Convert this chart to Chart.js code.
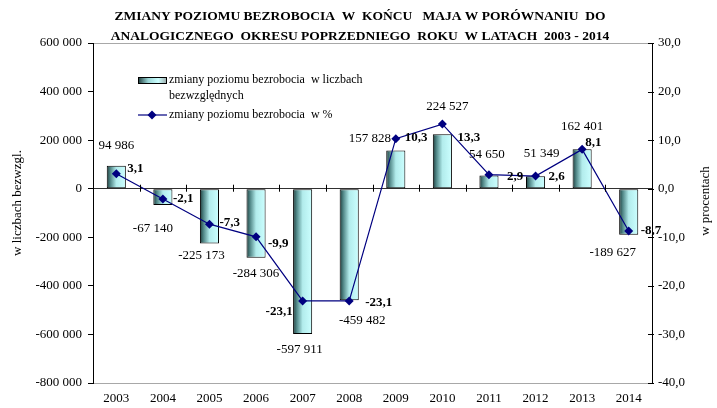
<!DOCTYPE html>
<html>
<head>
<meta charset="utf-8">
<script src="https://cdn.jsdelivr.net/npm/chart.js@4.4.1/dist/chart.umd.min.js"></script>
<style>
html,body{margin:0;padding:0;background:#fff;}
#wrap{width:717px;height:408px;position:relative;}
</style>
</head>
<body>
<div id="wrap"><canvas id="c" width="717" height="408"></canvas></div>
<script>
// ---- data ----
const years = ['2003','2004','2005','2006','2007','2008','2009','2010','2011','2012','2013','2014'];
const absChange = [94986, -67140, -225173, -284306, -597911, -459482, 157828, 224527, 54650, 51349, 162401, -189627];
const pctChange = [3.1, -2.1, -7.3, -9.9, -23.1, -23.1, 10.3, 13.3, 2.9, 2.6, 8.1, -8.7];
const leftAxisMin = -800000, leftAxisMax = 600000, leftAxisStep = 200000;
const rightAxisMin = -40, rightAxisMax = 30, rightAxisStep = 10;
const titleLines = ['ZMIANY POZIOMU BEZROBOCIA  W  KOŃCU   MAJA W PORÓWNANIU  DO',
                    'ANALOGICZNEGO  OKRESU POPRZEDNIEGO  ROKU  W LATACH  2003 - 2014'];
const seriesNames = ['zmiany poziomu bezrobocia  w liczbach', 'bezwzględnych', 'zmiany poziomu bezrobocia  w %'];
const leftAxisTitle = 'w liczbach bezwzgl.';
const rightAxisTitle = 'w procentach';

const SERIF = "'Liberation Serif', 'Times New Roman', serif";
Chart.defaults.font.family = SERIF;
Chart.defaults.font.size = 13;
Chart.defaults.color = '#000';

function fmtThousands(v){
  const s = String(Math.abs(v)).replace(/\B(?=(\d{3})+(?!\d))/g, ' ');
  return (v < 0 ? '-' : '') + s;
}
function fmtPct(v){ return v.toFixed(1).replace('.', ','); }

const BAR_PCT = 0.41;
function barGradient(ctx, chart, i){
  const xs = chart.scales.x;
  const area = chart.chartArea;
  if (!xs || !area) return '#bdf5f5';
  const xc = xs.getPixelForValue(i);
  const w = area.width / years.length * BAR_PCT;
  const g = chart.ctx.createLinearGradient(xc - w/2, 0, xc + w/2, 0);
  g.addColorStop(0, '#1e3a3a');
  g.addColorStop(0.18, '#4e8484');
  g.addColorStop(0.5, '#b2ecec');
  g.addColorStop(1, '#ccffff');
  return g;
}

// label placement tweaks (pixel offsets relative to mark ends)
const barLabelTweak = [[0,-20],[-10,24],[-8,12],[0,16],[-3,16],[13,20],[-26,-12],[5,-28],[-2,-21],[6,-23],[0,-23],[-16,18]];
const pctLabelTweak = [[11,-5,'left'],[10,0,'left'],[10,-2,'left'],[12,7,'left'],[-10,11,'right'],[16,2,'left'],
                       [9,-1,'left'],[15,14,'left'],[18,2,'left'],[13,1,'left'],[3,-7,'left'],[12,0,'left']];

const decor = {
  id: 'decor',
  afterDatasetsDraw(chart){
    const ctx = chart.ctx;
    const xs = chart.scales.x, ys = chart.scales.y, y2 = chart.scales.y2;
    ctx.save();
    ctx.fillStyle = '#000';
    ctx.textBaseline = 'middle';
    // bar value labels
    ctx.font = '13px ' + SERIF;
    ctx.textAlign = 'center';
    absChange.forEach((v, i) => {
      const x = xs.getPixelForValue(i) + barLabelTweak[i][0];
      const y = ys.getPixelForValue(v) + barLabelTweak[i][1];
      ctx.fillText(fmtThousands(v), x, y);
    });
    // percent labels
    ctx.font = 'bold 13px ' + SERIF;
    pctChange.forEach((v, i) => {
      const t = pctLabelTweak[i];
      ctx.textAlign = t[2];
      ctx.fillText(fmtPct(v), xs.getPixelForValue(i) + t[0], y2.getPixelForValue(v) + t[1]);
    });
    ctx.restore();
  },
  afterDraw(chart){
    const ctx = chart.ctx;
    const a = chart.chartArea;
    const xs = chart.scales.x, ys = chart.scales.y, y2 = chart.scales.y2;
    ctx.save();
    // category tick marks on the zero line
    const y0 = ys.getPixelForValue(0);
    ctx.strokeStyle = '#000';
    ctx.lineWidth = 1;
    const cw = a.width / years.length;
    for (let i = 1; i < years.length; i++){
      const x = Math.round(a.left + i*cw) + 0.5;
      ctx.beginPath(); ctx.moveTo(x, y0 - 4); ctx.lineTo(x, y0 + 3); ctx.stroke();
    }
    // right axis ticks crossing the axis
    for (let v = rightAxisMin; v <= rightAxisMax; v += rightAxisStep){
      const y = Math.round(y2.getPixelForValue(v)) + 0.5;
      ctx.beginPath(); ctx.moveTo(a.right - 4, y); ctx.lineTo(a.right + 2, y); ctx.stroke();
    }
    // title
    ctx.fillStyle = '#000';
    ctx.font = 'bold 13.5px ' + SERIF;
    ctx.textAlign = 'center';
    ctx.textBaseline = 'middle';
    ctx.fillText(titleLines[0], 360, 17);
    ctx.fillText(titleLines[1], 360, 37);
    // axis titles
    ctx.font = '13px ' + SERIF;
    ctx.save();
    ctx.translate(18, (a.top + a.bottom)/2 - 10);
    ctx.rotate(-Math.PI/2);
    ctx.fillText(leftAxisTitle, 0, 0);
    ctx.restore();
    ctx.save();
    ctx.translate(706, (a.top + a.bottom)/2 - 12);
    ctx.rotate(-Math.PI/2);
    ctx.fillText(rightAxisTitle, 0, 0);
    ctx.restore();
    // legend
    ctx.font = '12px ' + SERIF;
    const lx = a.left + 45, ly = a.top + 37;
    const g = ctx.createLinearGradient(lx, 0, lx + 29, 0);
    g.addColorStop(0, '#1e3a3a');
    g.addColorStop(0.35, '#9ad6d6');
    g.addColorStop(0.7, '#ccffff');
    g.addColorStop(1, '#9aa8a8');
    ctx.fillStyle = g;
    ctx.fillRect(lx, ly - 3, 29, 7);
    ctx.strokeStyle = '#000';
    ctx.strokeRect(lx + 0.5, ly - 2.5, 28, 6);
    ctx.fillStyle = '#000';
    ctx.textAlign = 'left';
    ctx.fillText(seriesNames[0], lx + 31, ly);
    ctx.fillText(seriesNames[1], lx + 31, ly + 16);
    const ly2 = ly + 35;
    ctx.strokeStyle = '#000080';
    ctx.lineWidth = 1.2;
    ctx.beginPath(); ctx.moveTo(lx, ly2); ctx.lineTo(lx + 29, ly2); ctx.stroke();
    ctx.fillStyle = '#000080';
    ctx.beginPath();
    const dx = lx + 14;
    ctx.moveTo(dx, ly2 - 4.5); ctx.lineTo(dx + 4.5, ly2); ctx.lineTo(dx, ly2 + 4.5); ctx.lineTo(dx - 4.5, ly2); ctx.closePath(); ctx.fill();
    ctx.fillStyle = '#000';
    ctx.fillText(seriesNames[2], lx + 31, ly2);
    ctx.restore();
  }
};

new Chart(document.getElementById('c'), {
  type: 'bar',
  data: {
    labels: years,
    datasets: [
      {
        type: 'line',
        label: seriesNames[2],
        data: pctChange,
        yAxisID: 'y2',
        borderColor: '#000080',
        backgroundColor: '#000080',
        borderWidth: 1.2,
        pointStyle: 'rectRot',
        pointRadius: 4.5,
        pointHoverRadius: 4.5,
        pointBorderWidth: 0,
        tension: 0,
        order: 0
      },
      {
        type: 'bar',
        label: seriesNames[0] + ' ' + seriesNames[1],
        data: absChange,
        yAxisID: 'y',
        backgroundColor: (c) => barGradient(c, c.chart, c.dataIndex),
        borderColor: '#000',
        borderWidth: 1,
        borderSkipped: false,
        barPercentage: BAR_PCT,
        categoryPercentage: 1.0,
        order: 1
      }
    ]
  },
  options: {
    responsive: false,
    animation: false,
    events: [],
    layout: { padding: { top: 43, left: 0, right: 0, bottom: 0 } },
    plugins: { legend: { display: false }, title: { display: false }, tooltip: { enabled: false } },
    scales: {
      x: {
        position: 'bottom',
        grid: { display: false, drawTicks: false },
        border: { display: false },
        ticks: { padding: 8, font: { size: 13 }, color: '#000', maxRotation: 0 },
        afterFit: (s) => { s.height = 25; }
      },
      y: {
        position: 'left',
        min: leftAxisMin, max: leftAxisMax,
        ticks: { stepSize: leftAxisStep, padding: 6, color: '#000', font: { size: 13 }, callback: (v) => fmtThousands(v) },
        grid: {
          drawOnChartArea: true,
          color: (c) => {
            const v = c.tick && c.tick.value;
            if (v === 0) return '#303030';
            if (v === leftAxisMin || v === leftAxisMax) return '#a8a8a8';
            return 'rgba(0,0,0,0)';
          },
          lineWidth: 1,
          tickColor: '#000',
          tickLength: 5
        },
        border: { display: true, color: '#000', width: 1 },
        afterFit: (s) => { s.width = 93; }
      },
      y2: {
        position: 'right',
        min: rightAxisMin, max: rightAxisMax,
        ticks: { stepSize: rightAxisStep, padding: 6, color: '#000', font: { size: 13 }, callback: (v) => fmtPct(v) },
        grid: { drawOnChartArea: false, drawTicks: false },
        border: { display: true, color: '#000', width: 1 },
        afterFit: (s) => { s.width = 65; }
      }
    }
  },
  plugins: [decor]
});
</script>
</body>
</html>
